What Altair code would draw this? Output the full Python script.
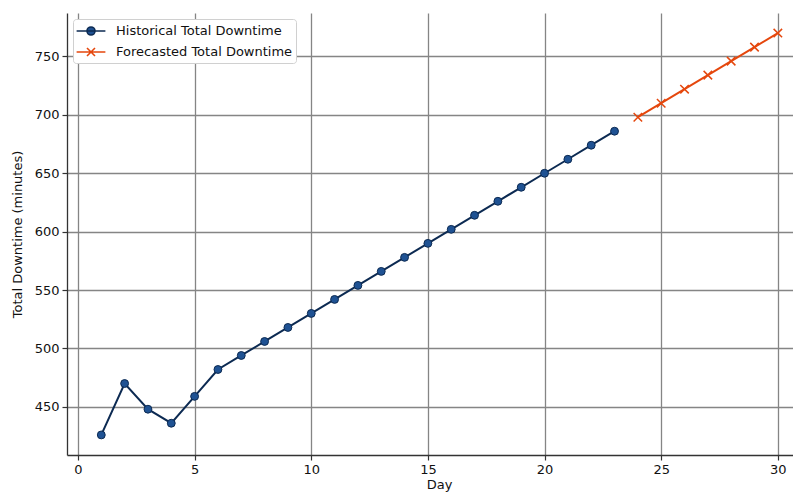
import altair as alt
import pandas as pd

hist_days = [1, 2, 3, 4, 5, 6, 7, 8, 9, 10, 11, 12, 13, 14, 15, 16, 17, 18, 19, 20, 21, 22, 23]
hist_values = [426, 470, 448, 436, 459, 482, 494, 506, 518, 530, 542, 554, 566, 578,
               590, 602, 614, 626, 638, 650, 662, 674, 686]
fc_days = [24, 25, 26, 27, 28, 29, 30]
fc_values = [698, 710, 722, 734, 746, 758, 770]
series_names = ["Historical Total Downtime", "Forecasted Total Downtime"]
x_ticks = [0, 5, 10, 15, 20, 25, 30]
y_ticks = [450, 500, 550, 600, 650, 700, 750]

NAVY = "#0c2a52"
BLUE = "#1f5293"
ORANGE = "#e5470d"
FONT = "DejaVu Sans"

hist = pd.DataFrame({"day": hist_days, "value": hist_values, "series": series_names[0]})
fc = pd.DataFrame({"day": fc_days, "value": fc_values, "series": series_names[1]})
both = pd.concat([hist, fc], ignore_index=True)

xs = alt.Scale(domain=[-0.47, 30.65], nice=False, zero=False)
ys = alt.Scale(domain=[408.8, 787.2], nice=False, zero=False)

x_enc = alt.X("day:Q", scale=xs, title="Day",
              axis=alt.Axis(values=x_ticks, format="d", titleX=372, titlePadding=2))
y_enc = alt.Y("value:Q", scale=ys, title="Total Downtime (minutes)",
              axis=alt.Axis(values=y_ticks, format="d", titlePadding=10))

is_hist = "datum.value === '" + series_names[0] + "'"
line_path = "M-1.8,0L1.8,0M0.5,0A0.5,0.5,0,1,1,-0.5,0A0.5,0.5,0,1,1,0.5,0Z"
x_path = "M-1.8,0L1.8,0M-0.5,-0.5L0.5,0.5M-0.5,0.5L0.5,-0.5"

legend = alt.Legend(
    title=None, orient="top-left", offset=6,
    symbolSize=256, symbolStrokeWidth=1.6, symbolOffset=6, labelOffset=16,
    labelFont=FONT, labelFontSize=13, labelColor="#111", labelLimit=400,
    rowPadding=4, padding=3, fillColor="white", strokeColor="#d0d0d0",
    cornerRadius=3, symbolOpacity=1,
)

legend_encoding = {"symbols": {
    "shape": {"value": {"expr": is_hist + " ? '" + line_path + "' : '" + x_path + "'"}},
    "fill": {"value": {"expr": is_hist + " ? '" + BLUE + "' : 'transparent'"}},
    "stroke": {"value": {"expr": is_hist + " ? '" + NAVY + "' : '" + ORANGE + "'"}},
    "strokeWidth": {"value": 1.6},
    "opacity": {"value": 1},
}}

lines = alt.Chart(both).mark_line(strokeWidth=2).encode(
    x=x_enc, y=y_enc,
    color=alt.Color("series:N", scale=alt.Scale(domain=series_names, range=[NAVY, ORANGE]),
                    legend=legend),
    detail="series:N",
)

hist_pts = alt.Chart(hist).mark_point(filled=True, fill=BLUE, stroke=NAVY, strokeWidth=1,
                                      size=62, opacity=1, shape="circle").encode(
    x=alt.X("day:Q", scale=xs), y=alt.Y("value:Q", scale=ys))

fc_pts = alt.Chart(fc).mark_point(filled=False, stroke=ORANGE, strokeWidth=1.5, size=72,
                                  opacity=1, shape="M-1,-1L1,1M-1,1L1,-1").encode(
    x=alt.X("day:Q", scale=xs), y=alt.Y("value:Q", scale=ys))

chart = alt.layer(lines, hist_pts, fc_pts).properties(
    width=726, height=442,
    autosize=alt.AutoSizeParams(type="none"),
    padding={"left": 59, "top": 5, "right": 0, "bottom": 40},
).configure_view(stroke=None).configure_axis(
    labelFont=FONT, labelFontSize=13, labelColor="#111",
    titleFont=FONT, titleFontSize=13, titleColor="#111", titleFontWeight="normal",
    grid=True, gridColor="#858585", gridWidth=1.3,
    domainColor="#333", domainWidth=1.3, tickColor="#333", tickWidth=1.2, tickSize=5,
    labelPadding=3,
)

_orig_to_dict = chart.to_dict


def _patched_to_dict(*args, **kwargs):
    d = _orig_to_dict(*args, **kwargs)
    try:
        d["layer"][0]["encoding"]["color"]["legend"]["encoding"] = legend_encoding
    except (KeyError, IndexError, TypeError):
        pass
    return d


object.__setattr__(chart, "to_dict", _patched_to_dict)

chart.save("out.html", embed_options={"renderer": "svg", "actions": False})
